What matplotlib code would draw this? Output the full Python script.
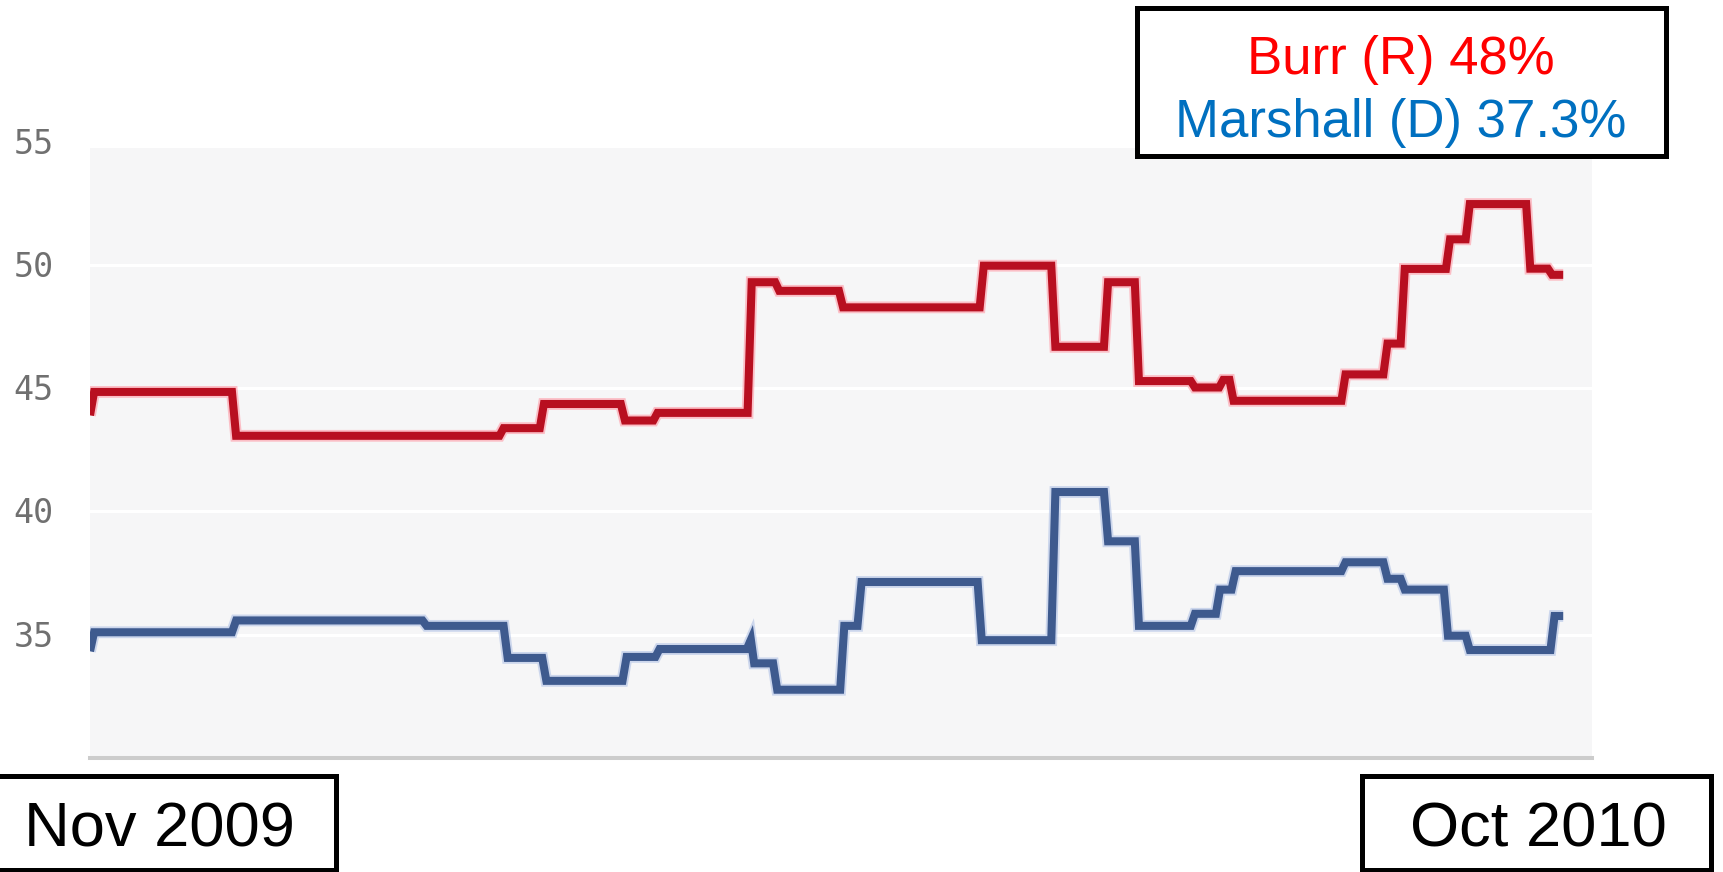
import matplotlib
matplotlib.use("Agg")
import matplotlib.pyplot as plt
from matplotlib.patches import Rectangle
from matplotlib.transforms import ScaledTranslation

# days since 1 Nov 2009 where a new poll average starts, and its value
burr_days = [0, 1, 35.5, 100.5, 110.3, 130, 137.9, 160.8, 167.5, 183, 217.2,
             234.6, 247.4, 254.9, 268.5, 275.4, 277.9, 305.1, 315.3, 319.5,
             330.5, 335.3, 350, 355.3]
burr_vals = [43.9, 44.85, 43.07, 43.38, 44.36, 43.69, 44.0, 49.3, 48.95, 48.28,
             49.97, 46.68, 49.3, 45.29, 45.03, 45.34, 44.49, 45.56, 46.81,
             49.84, 51.04, 52.47, 49.85, 49.6]

marshall_days = [0, 1, 35.5, 81.8, 101.5, 110.9, 130.4, 138.4, 160.6, 161.4,
                 167, 183.3, 187.5, 216.7, 234.6, 247.4, 254.9, 268.5, 274.6,
                 278.4, 305.1, 315.3, 319.5, 330, 335.3, 355.9]
marshall_vals = [34.33, 35.1, 35.58, 35.36, 34.06, 33.13, 34.1, 34.42, 34.8,
                 33.84, 32.77, 35.36, 37.14, 34.78, 40.79, 38.79, 35.36, 35.85,
                 36.83, 37.58, 37.94, 37.27, 36.83, 34.96, 34.38, 35.76]
last_day = 358

yticks = [35, 40, 45, 50, 55]
legend_lines = ["Burr (R) 48%", "Marshall (D) 37.3%"]
start_label = "Nov 2009"
end_label = "Oct 2010"

W, H = 1724, 872
fig = plt.figure(figsize=(W / 100, H / 100), dpi=100)


def fx(px):
    return px / W


def fy(px):
    return 1 - px / H


def step_path(days, vals, end):
    xs, ys = [days[0]], [vals[0]]
    for d, v in zip(days[1:], vals[1:]):
        xs += [max(d - 1, xs[-1]), d]
        ys += [ys[-1], v]
    xs.append(end)
    ys.append(vals[-1])
    return xs, ys


top_px, bot_px = 141.7, 758
ax = fig.add_axes([fx(90), fy(bot_px), fx(1592) - fx(90), (bot_px - top_px) / H])
ax.set_xlim(0, 365)
ax.set_ylim(30, 55)
ax.set_facecolor("white")
ax.axhspan(30, 54.74, color="#f6f6f7", zorder=0.1, lw=0)
ax.set_axisbelow(True)
ax.grid(axis="y", color="white", lw=2.3)
ax.grid(axis="x", visible=False)

for s in ["top", "right", "left"]:
    ax.spines[s].set_visible(False)
ax.spines["bottom"].set_color("#cccccc")
ax.spines["bottom"].set_linewidth(2.9)
ax.set_xticks([])
ax.set_yticks(yticks)
ax.set_yticklabels([str(t) for t in yticks])
ax.tick_params(axis="y", length=0, pad=55, labelsize=24, labelcolor="#707070")
for lab in ax.get_yticklabels():
    lab.set_horizontalalignment("left")
    lab.set_fontfamily("DejaVu Sans Mono")
    lab.set_transform(lab.get_transform() + ScaledTranslation(0, 1 / 100, fig.dpi_scale_trans))

series = [
    (burr_days, burr_vals, "#b80f20", "#ff9aa6"),
    (marshall_days, marshall_vals, "#3e5a8e", "#b0c2e6"),
]
for days, vals, core, halo in series:
    xs, ys = step_path(days, vals, last_day)
    ax.plot(xs, ys, color=halo, lw=8.5, alpha=0.6, solid_joinstyle="miter",
            solid_capstyle="butt", zorder=2)
    ax.plot(xs, ys, color=core, lw=5.8, solid_joinstyle="miter",
            solid_capstyle="butt", zorder=3)

# legend box at top right
fig.patches.append(Rectangle((fx(1137), fy(156)), fx(1666) - fx(1137), (156 - 8) / H,
                             transform=fig.transFigure, facecolor="white",
                             edgecolor="black", lw=3.6, zorder=5))
fig.text(fx(1401), fy(74), legend_lines[0], color="#ff0000", fontsize=38,
         family="Liberation Sans", ha="center", va="baseline", zorder=6)
fig.text(fx(1401), fy(137), legend_lines[1], color="#0070c0", fontsize=38,
         family="Liberation Sans", ha="center", va="baseline", zorder=6)

# date boxes at the bottom
fig.patches.append(Rectangle((fx(-5), fy(870)), fx(336) + 5 / W, (870 - 776) / H,
                             transform=fig.transFigure, facecolor="white",
                             edgecolor="black", lw=3.6, zorder=5))
fig.text(fx(24), fy(846), start_label, color="black", fontsize=45.5,
         family="Liberation Sans", ha="left", va="baseline", zorder=6)
fig.patches.append(Rectangle((fx(1362), fy(870)), fx(1711) - fx(1362), (870 - 776) / H,
                             transform=fig.transFigure, facecolor="white",
                             edgecolor="black", lw=3.6, zorder=5))
fig.text(fx(1538), fy(846), end_label, color="black", fontsize=45.5,
         family="Liberation Sans", ha="center", va="baseline", zorder=6)

fig.savefig("out.png", dpi=100, facecolor="white")
